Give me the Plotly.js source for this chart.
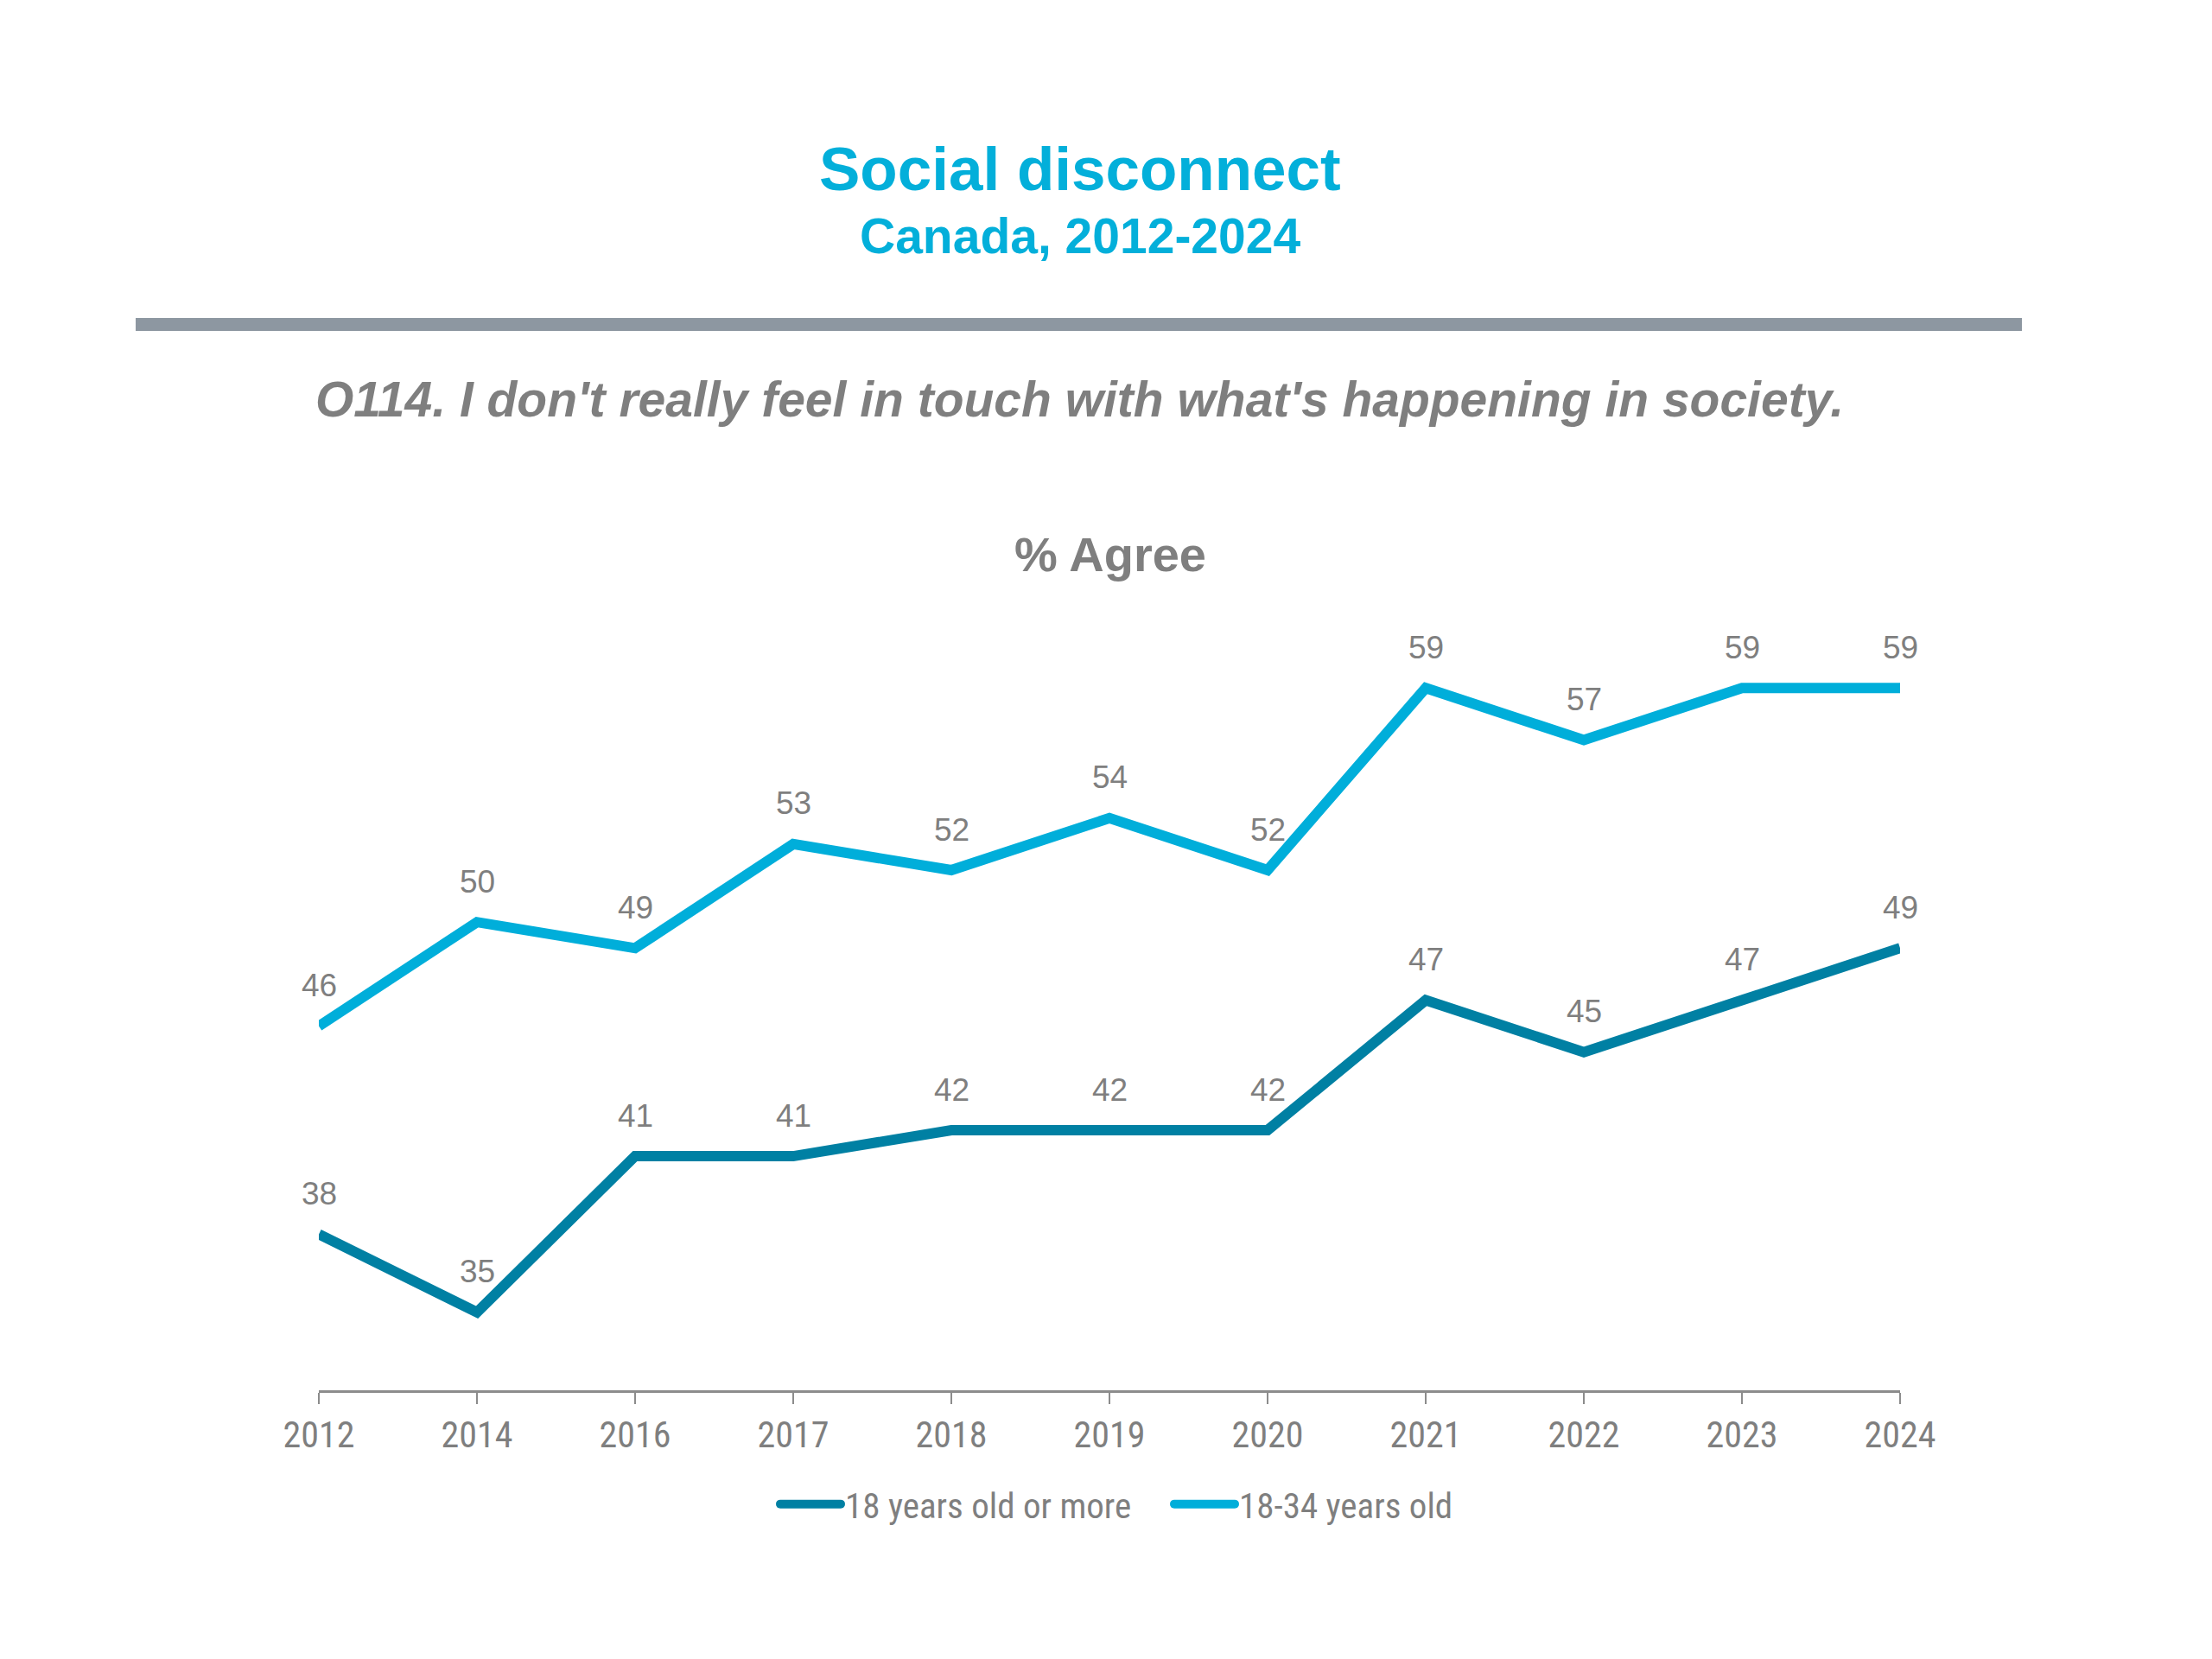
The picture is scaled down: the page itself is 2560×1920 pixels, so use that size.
<!DOCTYPE html>
<html>
<head>
<meta charset="utf-8">
<script src="https://cdn.plot.ly/plotly-3.0.1.min.js"></script>
<style>
  html, body { margin: 0; padding: 0; background: #ffffff; }
  #chart { width: 2560px; height: 1920px; }
  .legend .legendlines path { stroke-linecap: round; }
</style>
</head>
<body>
<div id="chart"></div>
<script>
// ---- data ----
var years = ["2012", "2014", "2016", "2017", "2018", "2019", "2020", "2021", "2022", "2023", "2024"];
var adults18plus = [38, 35, 41, 41, 42, 42, 42, 47, 45, 47, 49];
var youth18to34 = [46, 50, 49, 53, 52, 54, 52, 59, 57, 59, 59];
var seriesNames = ["18 years old or more", "18-34 years old"];
var titleText = "Social disconnect";
var subtitleText = "Canada, 2012-2024";
var questionText = "O114. I don't really feel in touch with what's happening in society.";
var measureText = "% Agree";

// ---- style ----
var darkBlue = "#0080A3";
var lightBlue = "#00AEDA";
var titleBlue = "#03AFDA";
var grayText = "#7F7F7F";
var sans = "Liberation Sans, Arial, Helvetica, sans-serif";
var narrow = "Liberation Sans Narrow, Arial Narrow, Roboto Condensed, Liberation Sans, sans-serif";

// plot-area geometry (px)
var L = 369, R = 2199, T = 706, B = 1609;
var W = 2560, H = 1920;
function px2y(py) { return (B - py) / (B - T); }
function px2x(pxv) { return (pxv - L) / (R - L); }

var traces = [
  { x: years, y: adults18plus, name: seriesNames[0], type: "scatter", mode: "lines",
    line: { color: darkBlue, width: 12 }, hoverinfo: "skip" },
  { x: years, y: youth18to34, name: seriesNames[1], type: "scatter", mode: "lines",
    line: { color: lightBlue, width: 12 }, hoverinfo: "skip" }
];

var annotations = [];
function addLabels(vals) {
  vals.forEach(function (v, i) {
    annotations.push({ x: i, y: v, xref: "x", yref: "y", text: String(v),
      showarrow: false, yshift: 47,
      font: { family: sans, size: 37, color: grayText } });
  });
}
addLabels(adults18plus);
addLabels(youth18to34);

annotations.push({ xref: "paper", yref: "paper", x: px2x(1250), y: px2y(195), xanchor: "center", yanchor: "middle",
  text: "<b>" + titleText + "</b>", showarrow: false, font: { family: sans, size: 71, color: titleBlue } });
annotations.push({ xref: "paper", yref: "paper", x: px2x(1250), y: px2y(273), xanchor: "center", yanchor: "middle",
  text: "<b>" + subtitleText + "</b>", showarrow: false, font: { family: sans, size: 57, color: titleBlue } });
annotations.push({ xref: "paper", yref: "paper", x: px2x(1249), y: px2y(462), xanchor: "center", yanchor: "middle",
  text: "<b><i>" + questionText + "</i></b>", showarrow: false, font: { family: sans, size: 57, color: grayText } });
annotations.push({ xref: "paper", yref: "paper", x: px2x(1285), y: px2y(642), xanchor: "center", yanchor: "middle",
  text: "<b>" + measureText + "</b>", showarrow: false, font: { family: sans, size: 56, color: grayText } });

var layout = {
  width: W, height: H,
  margin: { l: L, r: W - R, t: T, b: H - B, pad: 0 },
  paper_bgcolor: "#ffffff", plot_bgcolor: "#ffffff",
  showlegend: true,
  legend: { orientation: "h", x: px2x(898), xanchor: "left", y: px2y(1741), yanchor: "middle",
    font: { family: narrow, size: 41, color: grayText }, itemwidth: 70, traceorder: "normal",
    entrywidth: 371, entrywidthmode: "pixels",
    bgcolor: "rgba(0,0,0,0)" },
  xaxis: { type: "category", range: [0, years.length - 1], showgrid: false, zeroline: false,
    showline: true, linecolor: "#8C8C8C", linewidth: 2.5,
    ticks: "outside", ticklen: 13, tickwidth: 2.5, tickcolor: "#8C8C8C",
    tickfont: { family: narrow, size: 42, color: grayText }, fixedrange: true },
  yaxis: { range: [32, 62], visible: false, fixedrange: true },
  shapes: [
    { type: "rect", xref: "paper", yref: "paper", x0: px2x(157), x1: px2x(2340),
      y0: px2y(383), y1: px2y(368), fillcolor: "#8D97A1", line: { width: 0 } }
  ],
  annotations: annotations
};

Plotly.newPlot("chart", traces, layout, { displayModeBar: false, staticPlot: true });
</script>
</body>
</html>
